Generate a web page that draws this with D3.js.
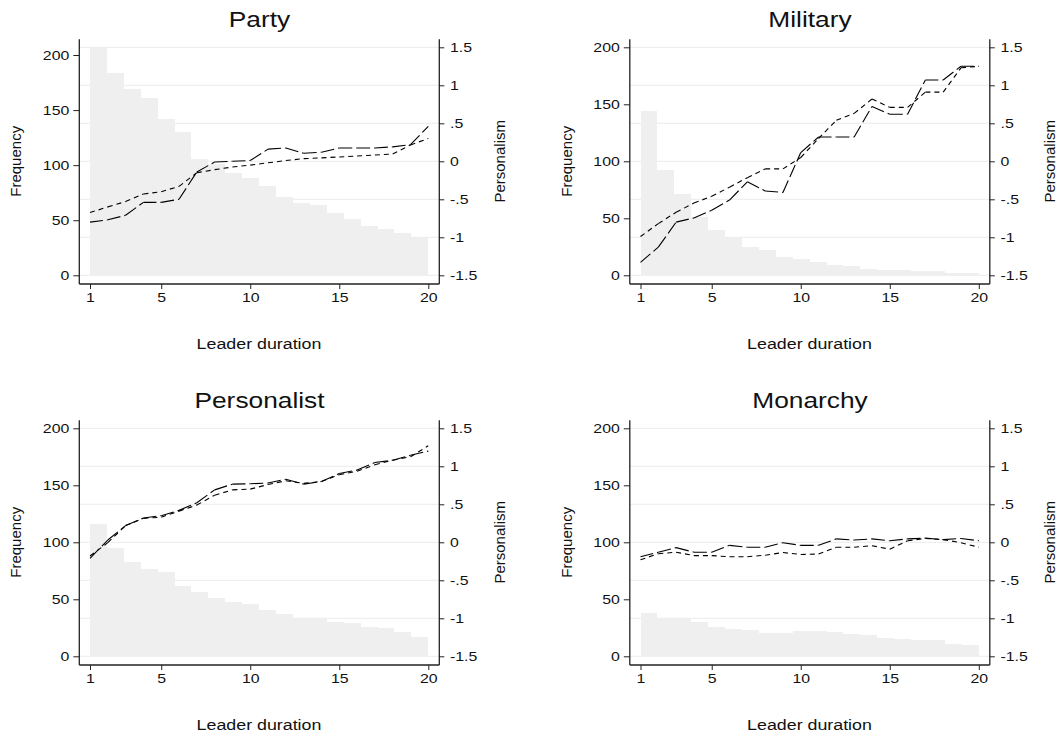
<!DOCTYPE html>
<html>
<head>
<meta charset="utf-8">
<script src="https://cdn.jsdelivr.net/npm/d3@7"></script>
<style>
  body { margin: 0; background: #fff; }
  text { font-family: "Liberation Sans", Arial, Helvetica, sans-serif; fill: #111; }
</style>
</head>
<body>
<svg id="chart" width="1059" height="736"></svg>
<script>
// leader duration (years) and axis ticks
var durations = [1,2,3,4,5,6,7,8,9,10,11,12,13,14,15,16,17,18,19,20];
var xTicks = [1, 5, 10, 15, 20];
var freqTicks = [0, 50, 100, 150, 200];
var persTicks = [-1.5, -1, -0.5, 0, 0.5, 1, 1.5];
var persTickLabels = ["-1.5", "-1", "-.5", "0", ".5", "1", "1.5"];

var panelTitles = ["Party", "Military", "Personalist", "Monarchy"];
var freqMax = [207, 200, 200, 200];

// histogram frequencies
var partyFreq       = [207,184,169,161,142,130,106,101,93,88,81,71,66,64,57,51,45,42,38,35];
var militaryFreq    = [144,92,71,51,40,34,25,22,16,14,12,9.4,8.2,5.8,4.7,4.7,3.8,3.8,2,1.8];
var personalistFreq = [116,95,83,77,74,62,56,51,48,46,41,37,34,34,30,29,26,25,21,17];
var monarchyFreq    = [38,34,33.5,30.5,26,24,23,20.5,20.5,22.5,22.5,21,19.5,18.5,16,15,14.5,14.5,10.8,10];

// personalism, long-dash series
var partyLong       = [-0.80,-0.77,-0.71,-0.54,-0.54,-0.50,-0.14,-0.01,0.0,0.01,0.16,0.175,0.105,0.12,0.175,0.175,0.175,0.19,0.22,0.46];
var militaryLong    = [-1.33,-1.13,-0.80,-0.745,-0.645,-0.51,-0.27,-0.39,-0.41,0.115,0.32,0.32,0.32,0.72,0.62,0.62,1.07,1.07,1.25,1.25];
var personalistLong = [-0.21,0.03,0.22,0.32,0.35,0.42,0.52,0.69,0.765,0.77,0.78,0.83,0.765,0.80,0.905,0.95,1.05,1.08,1.145,1.20];
var monarchyLong    = [-0.19,-0.13,-0.07,-0.13,-0.13,-0.04,-0.065,-0.065,-0.005,-0.04,-0.04,0.045,0.03,0.045,0.02,0.045,0.055,0.035,0.05,0.02];

// personalism, short-dash series
var partyShort       = [-0.675,-0.60,-0.53,-0.43,-0.40,-0.33,-0.15,-0.11,-0.075,-0.05,-0.02,0.01,0.035,0.045,0.057,0.07,0.083,0.096,0.215,0.30];
var militaryShort    = [-0.99,-0.82,-0.67,-0.55,-0.46,-0.34,-0.215,-0.10,-0.10,0.05,0.30,0.54,0.63,0.82,0.71,0.71,0.91,0.91,1.23,1.25];
var personalistShort = [-0.18,-0.005,0.22,0.315,0.33,0.41,0.49,0.62,0.69,0.70,0.76,0.81,0.775,0.80,0.89,0.935,1.02,1.08,1.125,1.27];
var monarchyShort    = [-0.23,-0.15,-0.13,-0.175,-0.175,-0.19,-0.19,-0.17,-0.135,-0.16,-0.155,-0.065,-0.065,-0.045,-0.09,0.02,0.05,0.035,-0.005,-0.065];

var freqs = [partyFreq, militaryFreq, personalistFreq, monarchyFreq];
var longs = [partyLong, militaryLong, personalistLong, monarchyLong];
var shorts = [partyShort, militaryShort, personalistShort, monarchyShort];

var binWidth = 0.95;

var svg = d3.select("#chart");
svg.append("rect").attr("width", 1059).attr("height", 736).attr("fill", "#fff");

var axL = 79.3, axR = 439.3, axT = 39.3, axB = 284;
var yTop = 47.3, yBot = 275.3;

function htext(g, x, y, size, sx, anchor, str) {
  return g.append("text")
    .attr("transform", "translate(" + x + "," + y + ") scale(" + sx + ",1)")
    .attr("font-size", size)
    .attr("text-anchor", anchor)
    .text(str);
}

panelTitles.forEach(function (title, i) {
  var ox = (i % 2) * 550.5,
      oy = Math.floor(i / 2) * 381;
  var g = svg.append("g").attr("transform", "translate(" + ox + "," + oy + ")");

  var x = d3.scaleLinear().domain([1, 20]).range([90, 428.3]);
  var yL = d3.scaleLinear().domain([0, freqMax[i]]).range([yBot, yTop]);
  var yR = d3.scaleLinear().domain([-1.5, 1.5]).range([yBot, yTop]);

  // grid at personalism ticks
  g.selectAll(".grid")
    .data(persTicks)
    .enter().append("line")
      .attr("x1", axL).attr("x2", axR)
      .attr("y1", function (d) { return yR(d); })
      .attr("y2", function (d) { return yR(d); })
      .attr("stroke", "#ebebeb")
      .attr("stroke-width", 1);

  // histogram bars
  g.selectAll(".bar")
    .data(freqs[i])
    .enter().append("rect")
      .attr("x", function (d, k) { return x(1 + k * binWidth); })
      .attr("width", function (d, k) { return x(1 + (k + 1) * binWidth) - x(1 + k * binWidth); })
      .attr("y", function (d) { return yL(d); })
      .attr("height", function (d) { return yL(0) - yL(d); })
      .attr("fill", "#efefef")
      .attr("shape-rendering", "crispEdges");

  // lines, drawn segment by segment so the dash pattern restarts at each point
  function drawSeries(vals, dash) {
    var segs = d3.pairs(durations.map(function (d, k) { return [x(d), yR(vals[k])]; }));
    g.selectAll(null)
      .data(segs)
      .enter().append("line")
        .attr("x1", function (s) { return s[0][0]; })
        .attr("y1", function (s) { return s[0][1]; })
        .attr("x2", function (s) { return s[1][0]; })
        .attr("y2", function (s) { return s[1][1]; })
        .attr("stroke", "#000")
        .attr("stroke-width", 1.1)
        .attr("stroke-dasharray", dash);
  }
  drawSeries(longs[i], "13,4");
  drawSeries(shorts[i], "5,4");

  // left axis
  var gl = g.append("g").attr("transform", "translate(" + axL + ",0)")
    .call(d3.axisLeft(yL).tickValues(freqTicks).tickSize(6).tickSizeOuter(0));
  gl.select(".domain").remove();
  gl.selectAll(".tick line").attr("stroke", "#222");
  gl.selectAll(".tick text")
    .attr("x", 0)
    .attr("font-size", 12.5)
    .attr("fill", "#111")
    .attr("transform", "translate(-10,0) scale(1.27,1)");

  // right axis
  var gr = g.append("g").attr("transform", "translate(" + axR + ",0)")
    .call(d3.axisRight(yR).tickValues(persTicks).tickSize(5).tickSizeOuter(0)
      .tickFormat(function (d, k) { return persTickLabels[k]; }));
  gr.select(".domain").remove();
  gr.selectAll(".tick line").attr("stroke", "#222");
  gr.selectAll(".tick text")
    .attr("x", 0)
    .attr("font-size", 12.5)
    .attr("fill", "#111")
    .attr("transform", "translate(10.7,0) scale(1.27,1)");

  // bottom axis
  var gb = g.append("g").attr("transform", "translate(0," + axB + ")")
    .call(d3.axisBottom(x).tickValues(xTicks).tickSize(5).tickSizeOuter(0).tickPadding(4.5));
  gb.select(".domain").remove();
  gb.selectAll(".tick line").attr("stroke", "#222");
  gb.selectAll(".tick text")
    .attr("font-size", 12.5)
    .attr("fill", "#111")
    .attr("transform", "scale(1.27,1)");

  // axis lines
  g.append("line").attr("x1", axL).attr("x2", axL).attr("y1", axT).attr("y2", axB)
    .attr("stroke", "#222").attr("stroke-width", 1.3);
  g.append("line").attr("x1", axR).attr("x2", axR).attr("y1", axT).attr("y2", axB)
    .attr("stroke", "#222").attr("stroke-width", 1.3);
  g.append("line").attr("x1", axL).attr("x2", axR).attr("y1", axB).attr("y2", axB)
    .attr("stroke", "#222").attr("stroke-width", 1.3);

  // titles
  htext(g, 259.5, 27.3, 22.5, 1.17, "middle", title);
  htext(g, 259, 348.7, 15.5, 1.15, "middle", "Leader duration");

  g.append("text")
    .attr("transform", "translate(21.4,161.3) rotate(-90)")
    .attr("font-size", 15)
    .attr("text-anchor", "middle")
    .text("Frequency");
  g.append("text")
    .attr("transform", "translate(504.5,161.3) rotate(-90)")
    .attr("font-size", 15)
    .attr("text-anchor", "middle")
    .text("Personalism");
});
</script>
</body>
</html>
